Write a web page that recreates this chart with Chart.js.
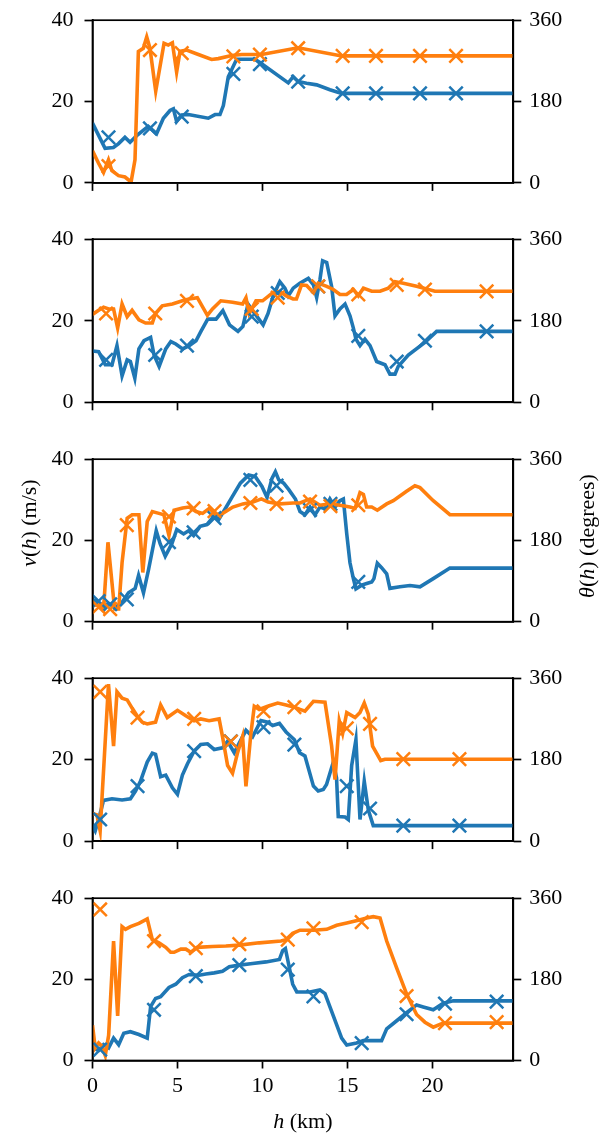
<!DOCTYPE html>
<html><head><meta charset="utf-8">
<script src="https://cdn.jsdelivr.net/npm/chart.js@4.4.0/dist/chart.umd.min.js"></script>
<style>
html,body{margin:0;padding:0;background:#fff;}
body{width:616px;height:1137px;position:relative;overflow:hidden;}
canvas{position:absolute;left:0;}
</style></head><body>
<script>
// ---------- tick labels / ranges ----------
const xTicks = [0, 5, 10, 15, 20];
const speedTicks = [0, 20, 40];
const dirTicks = [0, 180, 360];
const hMax = 24.76;

// ---------- panel 1 ----------
const p1Speed = [[0,14.7],[0.74,8.5],[1.23,8.7],[1.52,9.6],[1.91,11.2],[2.21,10.0],[2.6,11.6],[3.28,13.9],[3.77,12.1],[4.17,15.9],[4.56,17.8],[4.76,18.2],[4.95,15.1],[5.25,16.7],[5.64,16.8],[6.81,15.9],[7.21,16.8],[7.5,16.8],[7.7,19.0],[7.99,26.1],[8.48,30.4],[9.56,30.4],[9.85,29.6],[11.52,24.6],[11.81,26.1],[12.1,24.9],[12.6,24.5],[13.19,24.1],[13.97,22.9],[14.66,22.0],[24.76,22.0]];
const p1Dir = [[0,71],[0.35,44],[0.65,23],[0.94,51],[1.14,27],[1.53,16],[1.91,13],[2.27,2],[2.5,51],[2.7,291],[2.99,298],[3.19,323],[3.38,298],[3.72,203],[4.21,309],[4.46,305],[4.7,310],[4.95,245],[5.15,291],[5.54,294],[6.23,284],[7.01,273],[7.4,275],[8.19,282],[8.78,284],[9.95,284],[12.1,299],[14.66,281],[24.76,281]];
const p1MarkH = [0.94, 3.38, 5.25, 8.29, 9.85, 12.1, 14.72, 16.68, 19.27, 21.39];
const p1MarkV = [11.2, 13.4, 16.3, 26.8, 29.2, 24.9, 22.0, 22.0, 22.0, 22.0];
const p1MarkT = [37, 294, 287, 280, 284, 298, 281, 281, 281, 281];

// ---------- panel 2 ----------
const p2Speed = [[0,12.6],[0.36,12.4],[0.75,9.2],[1.15,9.2],[1.44,13.9],[1.74,6.5],[2.04,10.4],[2.23,10.0],[2.49,5.9],[2.73,13.1],[3.03,15.1],[3.42,15.9],[3.62,11.6],[3.92,8.8],[4.31,13.1],[4.61,14.9],[4.9,14.3],[5.3,13.1],[5.69,13.9],[6.09,15.1],[6.38,17.4],[6.78,20.4],[7.27,20.4],[7.67,22.5],[8.06,19.0],[8.56,17.4],[8.85,18.6],[9.15,24.1],[9.54,21.8],[10.04,19.0],[10.33,21.8],[10.63,26.1],[11.02,29.6],[11.32,28.0],[11.52,26.1],[11.81,28.0],[12.2,29.2],[12.7,30.4],[13.0,28.8],[13.19,25.7],[13.38,30.0],[13.54,34.7],[13.78,34.3],[14.07,28.4],[14.27,21.2],[14.56,22.9],[14.86,24.1],[15.15,21.2],[15.35,18.2],[15.5,15.5],[15.74,13.9],[16.03,15.5],[16.33,13.9],[16.72,10.0],[17.21,9.2],[17.5,6.9],[17.8,6.9],[17.99,8.8],[18.58,11.6],[19.56,14.7],[20.25,17.4],[24.76,17.4]];
const p2Dir = [[0,194],[0.36,203],[0.65,210],[0.95,206],[1.24,206],[1.48,164],[1.74,217],[2.04,189],[2.33,203],[2.73,182],[3.12,175],[3.52,175],[3.71,196],[4.1,213],[4.7,217],[5.29,224],[5.68,228],[6.17,231],[6.76,192],[7.06,206],[7.55,224],[8.24,221],[8.83,217],[9.03,231],[9.22,196],[9.62,224],[10.01,224],[10.61,242],[11.0,245],[11.4,235],[11.8,228],[12.0,228],[12.3,259],[12.6,258],[13.0,242],[13.28,263],[13.78,256],[14.17,249],[14.56,238],[14.95,238],[15.35,249],[15.64,235],[15.94,252],[16.43,245],[16.92,245],[17.41,252],[17.8,266],[18.29,263],[19.07,256],[20.15,245],[24.76,245]];
const p2MarkH = [0.8, 3.69, 5.56, 9.37, 10.9, 13.28, 15.64, 17.9, 19.56, 23.19];
const p2MarkV = [10.4, 11.6, 13.9, 21.0, 26.8, 28.4, 16.3, 10.0, 15.1, 17.4];
const p2MarkT = [196, 196, 224, 206, 231, 256, 238, 259, 249, 245];

// ---------- panel 3 ----------
const p3Speed = [[0,5.3],[0.26,5.1],[0.55,3.5],[0.94,4.5],[1.34,3.5],[1.73,4.7],[2.12,7.1],[2.51,8.2],[2.71,11.4],[3.0,7.1],[3.3,12.9],[3.75,22.4],[3.98,19.2],[4.28,16.1],[4.67,19.2],[4.96,22.7],[5.36,21.6],[5.65,22.4],[5.95,21.2],[6.34,23.5],[6.73,23.9],[7.13,25.9],[7.42,25.1],[7.81,27.8],[8.2,30.6],[8.7,34.1],[9.19,36.1],[9.58,35.7],[9.97,33.3],[10.27,30.6],[10.56,35.3],[10.76,36.9],[10.96,34.9],[11.25,34.1],[11.55,32.5],[11.94,30.2],[12.21,27.1],[12.5,26.3],[12.8,28.2],[13.09,26.3],[13.38,28.2],[13.68,27.8],[13.97,30.2],[14.27,28.2],[14.56,29.8],[14.76,30.2],[14.96,21.6],[15.15,14.5],[15.35,10.6],[15.5,8.1],[15.84,9.0],[16.13,9.4],[16.43,9.8],[16.56,10.6],[16.76,14.4],[17.01,13.3],[17.31,11.8],[17.5,8.2],[18.09,8.6],[18.68,8.9],[19.27,8.6],[20.05,10.6],[21.03,13.2],[24.76,13.2]];
const p3Dir = [[0,35],[0.36,39],[0.65,28],[0.91,176],[1.3,28],[1.54,28],[1.74,131],[2.04,229],[2.33,237],[2.73,237],[2.96,109],[3.22,222],[3.52,244],[3.91,240],[4.2,237],[4.5,191],[4.8,247],[5.3,252],[5.69,254],[6.09,244],[6.48,240],[6.88,251],[7.27,237],[7.67,240],[8.26,254],[8.85,261],[9.44,265],[9.94,272],[10.33,265],[11.02,261],[11.8,263],[12.21,263],[12.8,272],[13.38,258],[13.97,261],[14.56,258],[15.15,254],[15.45,251],[15.74,286],[15.94,282],[16.13,254],[16.43,254],[16.76,247],[17.31,261],[17.7,268],[18.48,289],[18.97,301],[19.27,297],[20.05,268],[21.03,237],[24.76,237]];
const p3MarkH = [0.36, 1.04, 2.02, 4.5, 5.95, 7.18, 9.29, 10.83, 12.8, 14.0, 15.64];
const p3MarkV = [5.1, 4.3, 5.5, 19.6, 22.0, 25.5, 34.9, 33.5, 27.5, 29.0, 9.8];
const p3MarkT = [32, 28, 214, 233, 251, 245, 263, 261, 266, 256, 258];

// ---------- panel 4 ----------
const p4Speed = [[0,3.7],[0.16,2.5],[0.36,5.3],[0.65,10.0],[1.15,10.4],[1.74,10.1],[2.23,10.4],[2.53,12.3],[2.82,14.7],[3.22,19.4],[3.52,21.6],[3.71,21.3],[4.01,15.8],[4.31,16.2],[4.7,13.1],[5.0,11.5],[5.29,16.2],[5.59,19.0],[5.98,22.1],[6.37,23.7],[6.77,23.9],[7.16,22.5],[7.65,22.9],[7.95,24.5],[8.34,21.7],[8.64,24.1],[9.03,27.2],[9.42,25.6],[9.91,29.6],[10.31,29.2],[10.6,28.4],[11.0,28.9],[11.39,26.8],[11.88,24.9],[12.18,21.7],[12.5,20.9],[13.0,13.5],[13.28,12.3],[13.58,12.7],[13.77,13.9],[14.17,19.4],[14.36,15.5],[14.46,6.0],[14.86,5.9],[15.05,5.3],[15.25,18.6],[15.5,24.9],[15.74,5.3],[15.99,14.7],[16.23,7.6],[16.52,3.8],[17.11,3.8],[24.76,3.8]];
const p4Dir = [[0,61],[0.26,58],[0.45,23],[0.94,347],[1.24,210],[1.44,330],[1.74,316],[2.04,312],[2.33,294],[2.62,277],[2.92,263],[3.22,259],[3.71,263],[4.01,301],[4.4,273],[5.0,289],[5.49,277],[5.98,266],[6.37,270],[6.86,266],[7.45,270],[7.65,231],[7.95,167],[8.24,150],[8.54,196],[8.83,231],[9.03,121],[9.32,238],[9.52,298],[9.81,291],[10.31,298],[10.9,305],[11.39,301],[11.88,296],[12.21,291],[12.5,287],[13.0,309],[13.68,307],[14.07,210],[14.27,136],[14.52,266],[14.72,238],[14.96,284],[15.45,273],[15.74,284],[15.99,305],[16.23,280],[16.48,210],[16.96,178],[17.21,181],[24.76,181]];
const p4MarkH = [0.45, 2.65, 5.98, 8.14, 10.06, 11.88, 14.96, 16.33, 18.29, 21.59];
const p4MarkV = [5.3, 13.5, 22.1, 24.5, 28.0, 23.7, 13.5, 8.0, 3.8, 3.8];
const p4MarkT = [330, 273, 270, 220, 287, 296, 249, 259, 181, 181];

// ---------- panel 5 ----------
const p5Speed = [[0,3.1],[0.36,2.5],[0.65,3.9],[0.95,3.1],[1.24,5.5],[1.54,3.9],[1.84,6.7],[2.23,7.1],[2.73,6.4],[3.22,5.5],[3.42,13.3],[3.71,15.3],[4.01,15.7],[4.5,18.0],[4.9,18.8],[5.29,20.4],[5.68,21.2],[6.27,21.0],[6.67,21.3],[7.16,21.6],[7.65,22.0],[8.05,23.1],[8.64,23.5],[9.42,23.9],[10.21,24.3],[11.0,24.9],[11.19,27.1],[11.35,27.6],[11.59,22.7],[11.78,18.8],[12.02,16.9],[12.8,16.9],[13.38,17.4],[13.68,16.5],[14.17,11.0],[14.66,5.5],[14.96,3.8],[15.54,4.3],[15.94,4.9],[17.01,4.9],[17.31,7.8],[17.9,9.8],[18.48,11.8],[19.07,13.7],[19.46,13.2],[20.05,12.5],[20.64,14.1],[21.23,14.7],[24.76,14.7]];
const p5Dir = [[0,78],[0.16,28],[0.36,39],[0.55,32],[0.75,11],[0.95,56],[1.24,265],[1.48,99],[1.74,297],[1.94,291],[2.23,297],[2.73,304],[3.22,314],[3.52,268],[3.91,261],[4.31,251],[4.6,240],[4.8,240],[5.2,247],[5.49,247],[5.79,240],[6.17,251],[7.06,253],[7.85,254],[8.64,256],[9.81,261],[11.09,265],[11.39,268],[11.78,282],[12.21,289],[13.0,289],[13.78,291],[14.37,300],[14.96,305],[15.64,311],[16.13,316],[16.52,319],[16.92,316],[17.31,265],[17.9,205],[18.48,148],[19.07,102],[19.56,85],[20.05,74],[20.64,83],[24.76,83]];
const p5MarkH = [0.45, 3.62, 6.08, 8.64, 11.49, 13.0, 15.84, 18.48, 20.74, 23.78];
const p5MarkV = [2.7, 12.5, 20.8, 23.5, 22.4, 15.8, 4.3, 11.4, 14.0, 14.5];
const p5MarkT = [335, 265, 249, 258, 268, 293, 307, 143, 83, 85];

// ---------- drawing ----------
const BLUE = '#1f77b4', ORANGE = '#ff7f0e';
const FONT = '"Liberation Serif", serif';
const FS = 22;
const W = 616;
const plotLeft = 92.5, plotRight = 513.3, plotH = 170.4;
const plotTops = [12.5, 231.9, 451.3, 670.7, 890.1];

const panels = [
  {s:p1Speed, d:p1Dir, mh:p1MarkH, mv:p1MarkV, mt:p1MarkT},
  {s:p2Speed, d:p2Dir, mh:p2MarkH, mv:p2MarkV, mt:p2MarkT},
  {s:p3Speed, d:p3Dir, mh:p3MarkH, mv:p3MarkV, mt:p3MarkT},
  {s:p4Speed, d:p4Dir, mh:p4MarkH, mv:p4MarkV, mt:p4MarkT},
  {s:p5Speed, d:p5Dir, mh:p5MarkH, mv:p5MarkV, mt:p5MarkT}
];

function pts(pairs){ return pairs.map(p => ({x:p[0], y:p[1]})); }
function mpts(hs, vs){ return hs.map((h,i) => ({x:h, y:vs[i]})); }

function setFont(ctx, italic){ ctx.font = (italic ? 'italic ' : '') + FS + 'px ' + FONT; }
function drawRich(ctx, segs, x, y, rot){
  ctx.save();
  ctx.translate(x, y); ctx.rotate(rot);
  ctx.fillStyle = '#000'; ctx.textBaseline = 'alphabetic'; ctx.textAlign = 'left';
  let w = 0;
  for (const s of segs){ setFont(ctx, s.i); w += ctx.measureText(s.t).width; }
  let cx = -w/2;
  for (const s of segs){ setFont(ctx, s.i); ctx.fillText(s.t, cx, 0); cx += ctx.measureText(s.t).width; }
  ctx.restore();
}

const framePlugin = {
  id:'frame',
  afterDraw(chart){
    const {ctx, chartArea:a} = chart;
    ctx.save(); ctx.strokeStyle = '#000'; ctx.lineWidth = 1.7;
    ctx.strokeRect(a.left, a.top, a.right - a.left, a.bottom - a.top);
    ctx.restore();
  }
};

panels.forEach((p, idx) => {
  const isLast = idx === panels.length - 1;
  const cTop = Math.floor(plotTops[idx] - 16);
  const padTop = plotTops[idx] - cTop;
  const H = isLast ? (1137 - cTop) : Math.round(padTop + plotH + 30);
  const B = H - padTop - plotH;
  const cv = document.createElement('canvas');
  cv.width = W; cv.height = H;
  cv.style.top = cTop + 'px'; cv.style.width = W + 'px'; cv.style.height = H + 'px';
  document.body.appendChild(cv);

  const gridCfg = {drawOnChartArea:false, drawTicks:true, tickLength:8, tickWidth:1.7, tickColor:'#000'};
  const borderCfg = {display:true, color:'#000', width:1.7};
  const tickFont = {family:FONT, size:FS};

  const titles = {
    id:'titles'+idx,
    afterDraw(chart){
      const ctx = chart.ctx;
      if (idx === 2){
        drawRich(ctx, [{t:'v',i:true},{t:'(',i:false},{t:'h',i:true},{t:') (m/s)',i:false}], 36, 523 - cTop, -Math.PI/2);
        drawRich(ctx, [{t:'θ',i:true},{t:'(',i:false},{t:'h',i:true},{t:') (degrees)',i:false}], 594, 536 - cTop, -Math.PI/2);
      }
      if (isLast){
        drawRich(ctx, [{t:'h',i:true},{t:' (km)',i:false}], (plotLeft+plotRight)/2, 1128 - cTop, 0);
      }
    }
  };

  new Chart(cv, {
    type:'line',
    data:{datasets:[
      {data:pts(p.s), yAxisID:'y', borderColor:BLUE, borderWidth:3.6, pointRadius:0, tension:0, fill:false, order:4},
      {data:pts(p.d), yAxisID:'y1', borderColor:ORANGE, borderWidth:3.6, pointRadius:0, tension:0, fill:false, order:3},
      {data:mpts(p.mh, p.mv), yAxisID:'y', showLine:false, pointStyle:'crossRot', pointRadius:9.5, borderColor:BLUE, backgroundColor:BLUE, pointBorderWidth:2.5, order:2},
      {data:mpts(p.mh, p.mt), yAxisID:'y1', showLine:false, pointStyle:'crossRot', pointRadius:9.5, borderColor:ORANGE, backgroundColor:ORANGE, pointBorderWidth:2.5, order:1}
    ]},
    options:{
      responsive:false, animation:false, devicePixelRatio: window.devicePixelRatio || 1,
      layout:{padding:{top:padTop, left:0, right:0, bottom:0}},
      plugins:{legend:{display:false}, tooltip:{enabled:false}},
      scales:{
        x:{type:'linear', min:0, max:hMax,
           afterBuildTicks:s => { s.ticks = xTicks.map(v => ({value:v})); },
           afterFit:s => { s.height = B; },
           grid:gridCfg, border:borderCfg,
           ticks:{display:isLast, font:tickFont, color:'#000', padding:5, maxRotation:0, autoSkip:false}},
        y:{position:'left', min:0, max:40,
           afterBuildTicks:s => { s.ticks = speedTicks.map(v => ({value:v})); },
           afterFit:s => { s.width = plotLeft; },
           grid:gridCfg, border:borderCfg,
           ticks:{font:tickFont, color:'#000', padding:11}},
        y1:{position:'right', min:0, max:360,
           afterBuildTicks:s => { s.ticks = dirTicks.map(v => ({value:v})); },
           afterFit:s => { s.width = W - plotRight; },
           grid:gridCfg, border:borderCfg,
           ticks:{font:tickFont, color:'#000', padding:8}}
      }
    },
    plugins:[framePlugin, titles]
  });
});
</script>
</body></html>
